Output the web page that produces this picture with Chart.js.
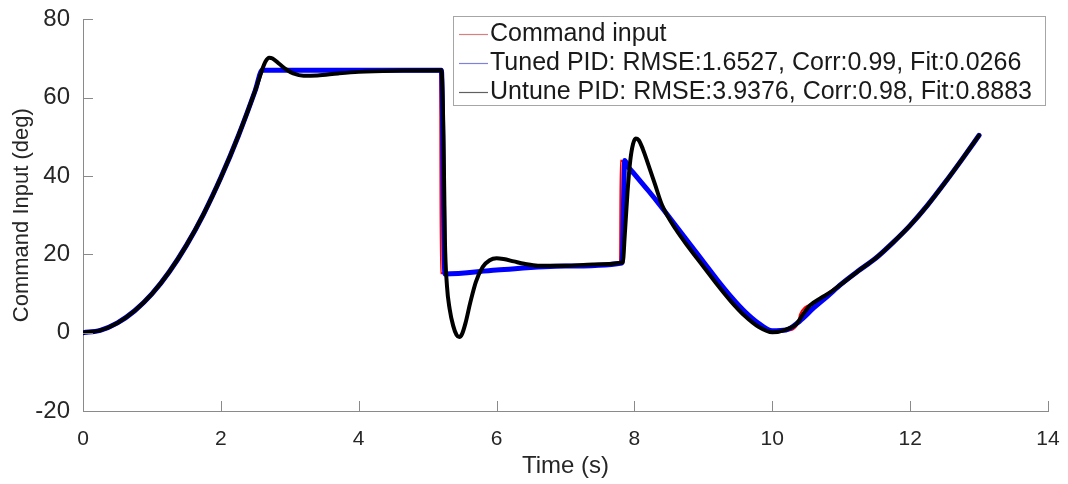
<!DOCTYPE html>
<html>
<head>
<meta charset="utf-8">
<script src="https://cdn.jsdelivr.net/npm/chart.js@4.4.1/dist/chart.umd.min.js"></script>
<style>
    html, body { margin: 0; padding: 0; background: #fff; }
    #wrap { width: 1068px; height: 484px; position: relative; }
</style>
</head>
<body>
<div id="wrap"><canvas id="chart"></canvas></div>
<script>
"use strict";

// tick values
const xTicks = [0, 2, 4, 6, 8, 10, 12, 14];
const yTicks = [-20, 0, 20, 40, 60, 80];

const seriesLabels = [
    'Command input',
    'Tuned PID: RMSE:1.6527, Corr:0.99, Fit:0.0266',
    'Untune PID: RMSE:3.9376, Corr:0.98, Fit:0.8883'
];

// command input (deg)
const cmdTime = [0, 0.25, 0.5, 0.75, 1, 1.25, 1.5, 1.75, 2, 2.25, 2.5, 2.6, 3.5, 4.5, 5.18, 5.19, 6.0, 7.0, 7.79, 7.8,
    7.9, 8.0, 8.2, 8.4, 8.6, 8.8, 9.0, 9.2, 9.4, 9.6, 9.8, 10.0, 10.2, 10.38, 10.4, 10.6, 10.8, 11.0, 11.25, 11.5,
    11.75, 12.0, 12.25, 12.5, 12.75, 13.0];
const cmdValue = [0, 0.6, 2.5, 5.6, 9.9, 15.5, 22.3, 30.3, 39.6, 50.1, 61.9, 67, 67, 67, 67, 15.2, 16.0, 17.0, 17.8, 44,
    42.5, 40.4, 36.2, 31.8, 27.2, 22.6, 18.0, 13.4, 9.1, 5.3, 2.3, 0.4, 0.5, 2.5, 4.6, 7.4, 10.0, 12.6, 15.8, 19.0,
    23.0, 27.4, 32.5, 38.2, 44.2, 50.4];

// tuned PID response
const tunedTime = [0, 0.25, 0.5, 0.75, 1, 1.25, 1.5, 1.75, 2, 2.25, 2.5, 2.6, 3.5, 4.5, 5.2, 5.25, 6.0, 7.0, 7.82, 7.86,
    7.9, 8.0, 8.2, 8.4, 8.6, 8.8, 9.0, 9.2, 9.4, 9.6, 9.8, 10.0, 10.2, 10.4, 10.6, 10.8, 11.0, 11.25, 11.5,
    11.75, 12.0, 12.25, 12.5, 12.75, 13.0];
const tunedValue = [0, 0.6, 2.5, 5.6, 9.9, 15.5, 22.3, 30.3, 39.6, 50.1, 61.9, 67, 67, 67, 67, 15.0, 16.0, 17.0, 17.8, 44,
    42.6, 40.5, 36.3, 31.9, 27.3, 22.7, 18.1, 13.5, 9.2, 5.4, 2.4, 0.5, 0.7, 3.0, 6.3, 9.3, 12.4, 15.8, 19.0,
    23.0, 27.4, 32.5, 38.2, 44.2, 50.4];

// untuned PID response
const untunedTime = [0, 0.25, 0.5, 0.75, 1, 1.25, 1.5, 1.75, 2, 2.25, 2.5, 2.6, 2.65, 2.7, 2.75, 2.85, 2.95, 3.05, 3.2,
    3.4, 3.7, 4.0, 4.5, 5.2, 5.23, 5.25, 5.28, 5.32, 5.37, 5.42, 5.46, 5.5, 5.55, 5.62, 5.7, 5.8, 5.9, 6.0, 6.1, 6.25,
    6.4, 6.6, 7.0, 7.4, 7.83, 7.86, 7.9, 7.94, 7.98, 8.02, 8.06, 8.12, 8.2, 8.3, 8.4, 8.6, 8.8, 9.0, 9.2, 9.4, 9.6,
    9.8, 10.0, 10.2, 10.35, 10.45, 10.55, 10.7, 10.85, 11.0, 11.25, 11.5, 11.75, 12.0, 12.25, 12.5, 12.75, 13.0];
const untunedValue = [0, 0.6, 2.5, 5.6, 9.9, 15.5, 22.3, 30.3, 39.6, 50.1, 61.9, 67.2, 69.3, 70.2, 70.0, 68.6, 67.2, 66.2, 65.6,
    65.7, 66.2, 66.6, 66.9, 67.0, 50, 24, 12, 6, 1.8, -0.6, -1.1, -0.3, 2.5, 7.8, 13, 16.8, 18.5, 19.0, 18.8, 18.2,
    17.6, 17.1, 17.1, 17.4, 17.9, 25, 36, 44, 48.2, 49.6, 49.2, 47, 43, 37.8, 32.6, 26.4, 21.5, 16.9, 12.3, 8.0, 4.3,
    1.5, 0.1, 0.8, 2.2, 4.8, 7.0, 8.8, 10.4, 12.4, 15.8, 19.0, 23.0, 27.4, 32.5, 38.2, 44.2, 50.4];

const toPoints = (xs, ys) => xs.map((x, i) => ({x: x, y: ys[i]}));

const FONT = '"Liberation Sans", Arial, Helvetica, sans-serif';
const AXIS_COLOR = '#8a8a8a';
const TEXT_COLOR = '#262626';

// MATLAB style ticks: drawn inward from the axis lines
const inwardTicks = {
    id: 'inwardTicks',
    afterDraw(chart) {
        const ctx = chart.ctx;
        const xs = chart.scales.x;
        const ys = chart.scales.y;
        const len = 10;

        ctx.save();
        ctx.strokeStyle = AXIS_COLOR;
        ctx.lineWidth = 1;
        ctx.beginPath();
        xTicks.forEach((v) => {
            const px = Math.round(xs.getPixelForValue(v)) + 0.5;
            ctx.moveTo(px, ys.bottom);
            ctx.lineTo(px, ys.bottom - len);
        });
        yTicks.forEach((v) => {
            const py = Math.round(ys.getPixelForValue(v)) + 0.5;
            ctx.moveTo(xs.left, py);
            ctx.lineTo(xs.left + len, py);
        });
        ctx.stroke();
        ctx.restore();
    }
};

// boxed legend in the upper right corner of the plot
const boxLegend = {
    id: 'boxLegend',
    afterDraw(chart) {
        const ctx = chart.ctx;
        const box = {left: 453, top: 16, right: 1045, bottom: 105};
        const rows = [34, 63, 92];

        ctx.save();
        ctx.fillStyle = '#fff';
        ctx.fillRect(box.left, box.top, box.right - box.left, box.bottom - box.top);
        ctx.strokeStyle = '#a6a6a6';
        ctx.lineWidth = 1;
        ctx.strokeRect(box.left + 0.5, box.top + 0.5, box.right - box.left, box.bottom - box.top);

        ctx.font = '25px ' + FONT;
        ctx.textBaseline = 'middle';
        ctx.textAlign = 'left';

        chart.data.datasets.forEach((ds, i) => {
            ctx.strokeStyle = ds.legendColor;
            ctx.lineWidth = 1.2;
            ctx.beginPath();
            ctx.moveTo(459, rows[i] + 0.5);
            ctx.lineTo(488, rows[i] + 0.5);
            ctx.stroke();

            ctx.fillStyle = '#1a1a1a';
            ctx.fillText(ds.label, 490, rows[i]);
        });
        ctx.restore();
    }
};

new Chart(document.getElementById('chart'), {
    type: 'line',
    data: {
        datasets: [{
            label: seriesLabels[0],
            data: toPoints(cmdTime, cmdValue),
            borderColor: '#ff0000',
            legendColor: '#d88080',
            borderWidth: 2,
            order: 3
        }, {
            label: seriesLabels[1],
            data: toPoints(tunedTime, tunedValue),
            borderColor: '#0000ff',
            legendColor: '#8080e0',
            borderWidth: 5,
            order: 2
        }, {
            label: seriesLabels[2],
            data: toPoints(untunedTime, untunedValue),
            borderColor: '#000000',
            legendColor: '#606060',
            borderWidth: 4,
            order: 1
        }]
    },
    options: {
        responsive: true,
        maintainAspectRatio: false,
        animation: false,
        events: [],
        datasets: {
            line: {
                pointRadius: 0,
                cubicInterpolationMode: 'monotone',
                borderJoinStyle: 'round',
                borderCapStyle: 'round',
                fill: false
            }
        },
        layout: {
            padding: {top: 15, right: 20, bottom: 0, left: 0}
        },
        plugins: {
            legend: {display: false},
            tooltip: {enabled: false}
        },
        scales: {
            x: {
                type: 'linear',
                min: 0,
                max: 14,
                afterBuildTicks: (scale) => {
                    scale.ticks = xTicks.map(v => ({value: v}));
                },
                afterFit: (scale) => {
                    scale.height = 73;
                },
                grid: {display: false},
                border: {display: true, color: AXIS_COLOR, width: 1},
                ticks: {
                    color: TEXT_COLOR,
                    font: {family: FONT, size: 21},
                    padding: 8,
                    maxRotation: 0
                },
                title: {
                    display: true,
                    text: 'Time (s)',
                    color: TEXT_COLOR,
                    font: {family: FONT, size: 24},
                    padding: {top: 0, bottom: 3}
                }
            },
            y: {
                type: 'linear',
                min: -20,
                max: 80,
                afterBuildTicks: (scale) => {
                    scale.ticks = yTicks.map(v => ({value: v}));
                },
                afterFit: (scale) => {
                    scale.width = 83;
                },
                grid: {display: false},
                border: {display: true, color: AXIS_COLOR, width: 1},
                ticks: {
                    color: TEXT_COLOR,
                    font: {family: FONT, size: 24},
                    padding: 5
                },
                title: {
                    display: true,
                    text: 'Command Input (deg)',
                    color: TEXT_COLOR,
                    font: {family: FONT, size: 22},
                    padding: {top: 9, bottom: 0}
                }
            }
        }
    },
    plugins: [inwardTicks, boxLegend]
});
</script>
</body>
</html>
